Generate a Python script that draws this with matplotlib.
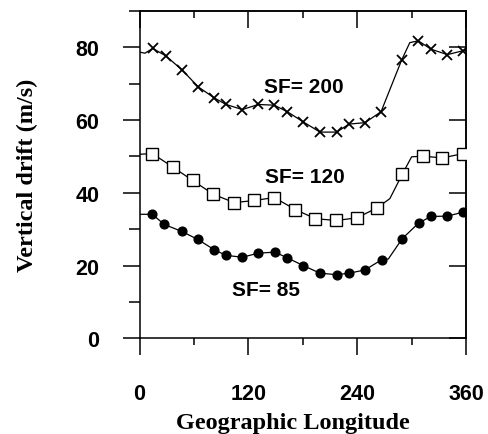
import matplotlib
matplotlib.use("Agg")
import matplotlib.pyplot as plt
from matplotlib.ticker import MultipleLocator

# marker positions
lon_200 = [14.5, 28.8, 46.5, 64.9, 82.5, 95.4, 113.4, 131, 148.6, 163, 180.6,
           199, 217.4, 231, 248.6, 266.3, 289, 307.4, 321.4, 339.4, 357]
drift_200 = [79.7, 77.7, 73.9, 69.1, 66.1, 64.3, 62.9, 64.3, 64.1, 62.3, 59.5,
             56.7, 56.7, 58.9, 59.3, 62.3, 76.5, 81.8, 79.5, 78.0, 79.1]

lon_120 = [14.1, 36.6, 58.6, 81.4, 104.5, 126.6, 148.6, 171.8, 193.8, 216.6,
           239.5, 261.5, 289.7, 312.2, 333.9, 357]
drift_120 = [50.8, 47.1, 43.4, 39.6, 37.3, 37.9, 38.7, 35.4, 32.9, 32.4,
             33.1, 35.8, 45.1, 50.1, 49.6, 50.8]

lon_85 = [14.1, 27.3, 46.5, 64.2, 82.1, 95.4, 113.4, 131, 149.4, 163, 180.6,
          199, 217.4, 231, 248.6, 267, 289.7, 307.8, 321.4, 339.4, 357]
drift_85 = [34.1, 31.3, 29.4, 27.2, 24.4, 22.8, 22.3, 23.4, 23.7, 22.1, 20.0,
            17.9, 17.5, 17.9, 18.8, 21.6, 27.4, 31.7, 33.5, 33.6, 34.7]

# extra points along the drawn curves (start at 0 and bends between markers)
curve_extra_200 = [(0, 78.7), (6, 78.4), (298, 81.3), (360, 79.3)]
curve_extra_120 = [(0, 50.6), (276, 38.4), (300, 49.9), (360, 51.0)]
curve_extra_85 = [(0, 34.1), (274.3, 21.8), (360, 34.9)]

labels = ["SF= 200", "SF= 120", "SF= 85"]
label_pos = [(181, 69.2), (182, 44.4), (139, 13.5)]

x_ticks = [0, 120, 240, 360]
y_ticks = [0, 20, 40, 60, 80]


def curve(lon, drift, extra):
    pts = sorted(list(zip(lon, drift)) + extra)
    return [p[0] for p in pts], [p[1] for p in pts]


fig = plt.figure(figsize=(4.89, 4.35), dpi=100)
ax = fig.add_axes([0.2853, 0.22, 0.6677, 0.7524])

lw = 0.9
cx, cy = curve(lon_200, drift_200, curve_extra_200)
ax.plot(cx, cy, color="black", lw=lw)
ax.plot(lon_200, drift_200, ls="none", marker="x", ms=7, mew=1.3, color="black")

cx, cy = curve(lon_120, drift_120, curve_extra_120)
ax.plot(cx, cy, color="black", lw=lw)
ax.plot(lon_120, drift_120, ls="none", marker="s", ms=9, mew=1.0,
        mfc="white", mec="black", zorder=3)

cx, cy = curve(lon_85, drift_85, curve_extra_85)
ax.plot(cx, cy, color="black", lw=lw)
ax.plot(lon_85, drift_85, ls="none", marker="o", ms=6.3, color="black")

for txt, (x, y) in zip(labels, label_pos):
    ax.text(x, y, txt, ha="center", va="center", fontsize=15,
            fontweight="bold", family="Liberation Sans")

ax.set_xlim(0, 360)
ax.set_ylim(0, 90)
ax.set_xticks(x_ticks)
ax.set_yticks(y_ticks)
ax.xaxis.set_minor_locator(MultipleLocator(60))
ax.yaxis.set_minor_locator(MultipleLocator(10))

for s in ax.spines.values():
    s.set_linewidth(1.1)

ax.tick_params(which="both", width=1.1, direction="out",
               top=False, right=False)
ax.tick_params(axis="y", which="major", length=12, pad=17)
ax.tick_params(axis="y", which="minor", length=8)
ax.tick_params(axis="x", which="major", length=12, pad=20)
ax.tick_params(axis="x", which="minor", length=5)

# inward ticks on the top and right frame
top = ax.secondary_xaxis("top")
top.set_xticks(x_ticks)
top.xaxis.set_minor_locator(MultipleLocator(60))
top.tick_params(which="major", direction="in", length=12, width=1.1,
                labeltop=False)
top.tick_params(which="minor", direction="in", length=5, width=1.1)
top.spines["top"].set_linewidth(1.1)

right = ax.secondary_yaxis("right")
right.set_yticks(y_ticks)
right.tick_params(which="major", direction="in", length=12, width=1.1,
                  labelright=False)
right.tick_params(which="minor", length=0)
right.spines["right"].set_linewidth(1.1)

for lab in ax.get_xticklabels() + ax.get_yticklabels():
    lab.set_fontfamily("Liberation Sans")
    lab.set_fontweight("bold")
    lab.set_fontsize(15.5)

ax.set_ylabel("Vertical drift (m/s)", family="Liberation Serif",
              fontweight="bold", fontsize=17.5, labelpad=26.5)
ax.set_xlabel("Geographic Longitude", family="Liberation Serif",
              fontweight="bold", fontsize=17.5, labelpad=6)
ax.xaxis.set_label_coords(0.4686, -0.225)

fig.savefig("out.png", dpi=100)
